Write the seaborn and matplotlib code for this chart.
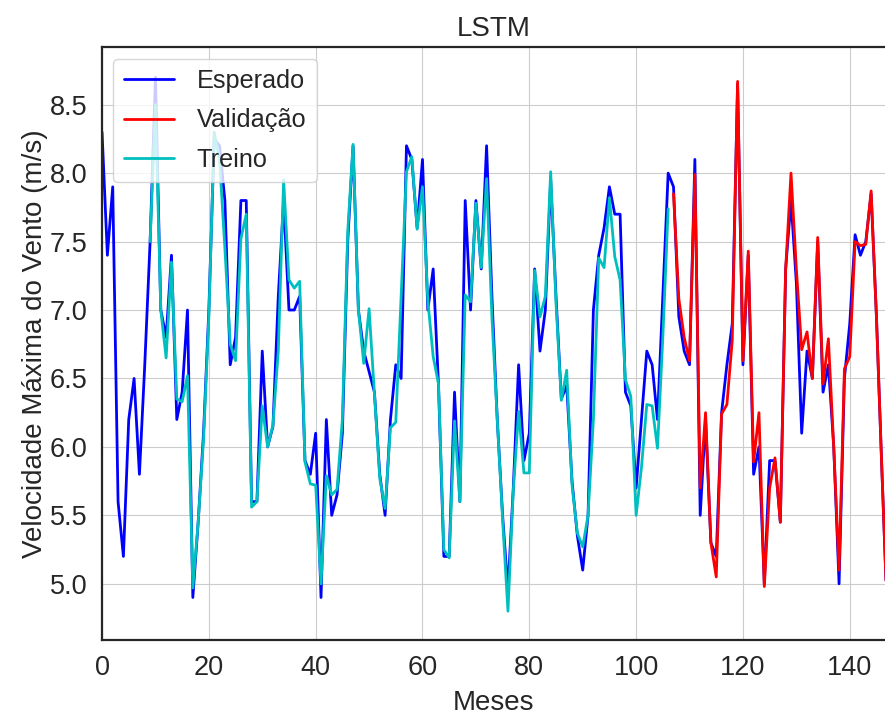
import numpy as np
import pandas as pd
import seaborn as sns
import matplotlib
matplotlib.use('Agg')
import matplotlib.pyplot as plt

# Monthly maximum wind speed (m/s)
esperado = [8.3, 7.4, 7.9, 5.6, 5.2, 6.2, 6.5, 5.8, 6.6, 7.5,
            8.7, 7.0, 6.8, 7.4, 6.2, 6.4, 7.0, 4.9, 5.45, 6.1,
            7.0, 8.25, 8.2, 7.8, 6.6, 6.8, 7.8, 7.8, 5.6, 5.6,
            6.7, 6.0, 6.15, 7.1, 7.8, 7.0, 7.0, 7.1, 5.9, 5.8,
            6.1, 4.9, 6.2, 5.5, 5.65, 6.1, 7.5, 8.2, 7.0, 6.7,
            6.55, 6.4, 5.8, 5.5, 6.2, 6.6, 6.5, 8.2, 8.1, 7.6,
            8.1, 7.0, 7.3, 6.45, 5.2, 5.2, 6.4, 5.6, 7.8, 7.0,
            7.8, 7.3, 8.2, 7.1, 6.2, 5.5, 4.95, 5.7, 6.6, 5.9,
            6.1, 7.3, 6.7, 7.0, 7.95, 7.1, 6.35, 6.45, 5.75, 5.35,
            5.1, 5.5, 7.0, 7.4, 7.6, 7.9, 7.7, 7.7, 6.4, 6.3,
            5.7, 6.2, 6.7, 6.6, 6.2, 7.1, 8.0, 7.9, 6.95, 6.7,
            6.6, 8.1, 5.5, 6.2, 5.3, 5.2, 6.25, 6.6, 6.9, 8.65,
            6.6, 7.4, 5.8, 6.0, 5.0, 5.9, 5.9, 5.45, 7.3, 7.8,
            7.2, 6.1, 6.7, 6.5, 7.5, 6.4, 6.6, 6.0, 5.0, 6.5,
            6.9, 7.55, 7.4, 7.5, 7.85, 6.95, 5.85, 4.8]

treino_inicio = 9
treino = [7.5, 8.5, 7.0, 6.65, 7.35, 6.35, 6.33, 6.52, 4.97, 5.45,
          6.05, 6.95, 8.3, 8.1, 7.45, 6.75, 6.63, 7.52, 7.7, 5.56,
          5.6, 6.3, 6.0, 6.16, 6.7, 7.95, 7.22, 7.16, 7.21, 5.89,
          5.73, 5.72, 5.0, 5.79, 5.65, 5.69, 6.2, 7.57, 8.21, 7.0,
          6.61, 7.01, 6.39, 5.77, 5.55, 6.14, 6.18, 7.1, 8.01, 8.12,
          7.59, 7.9, 7.07, 6.66, 6.46, 5.25, 5.19, 6.19, 5.6, 7.11,
          7.06, 7.78, 7.31, 7.96, 6.95, 6.2, 5.47, 4.8, 5.68, 6.26,
          5.81, 5.81, 7.29, 6.95, 7.1, 8.01, 7.05, 6.34, 6.56, 5.72,
          5.37, 5.27, 5.5, 6.2, 7.38, 7.31, 7.82, 7.39, 7.22, 6.49,
          6.37, 5.5, 5.85, 6.31, 6.3, 5.99, 6.8, 7.74]

validacao_inicio = 107
validacao = [7.85, 7.08, 6.8, 6.63, 7.99, 5.7, 6.25, 5.3, 5.05, 6.24,
             6.31, 6.78, 8.67, 6.63, 7.43, 5.89, 6.25, 4.98, 5.7, 5.92,
             5.45, 7.3, 8.0, 7.3, 6.71, 6.84, 6.5, 7.53, 6.46, 6.79,
             6.0, 5.1, 6.57, 6.66, 7.5, 7.47, 7.48, 7.87, 6.95, 5.85,
             4.8]

df_esp = pd.DataFrame({'mes': np.arange(len(esperado)), 'v': esperado})
df_tre = pd.DataFrame({'mes': np.arange(len(treino)) + treino_inicio, 'v': treino})
df_val = pd.DataFrame({'mes': np.arange(len(validacao)) + validacao_inicio, 'v': validacao})

sns.set_style('whitegrid', {'axes.edgecolor': '0.15'})
plt.rcParams['font.family'] = ['Liberation Sans', 'DejaVu Sans']

fig = plt.figure(figsize=(8.85, 7.15), dpi=100)
ax = fig.add_axes([0.1153, 0.105, 0.8847, 0.829])

sns.lineplot(data=df_esp, x='mes', y='v', color='b', linewidth=2, label='Esperado', ax=ax)
sns.lineplot(data=df_val, x='mes', y='v', color='r', linewidth=2, label='Validação', ax=ax)
sns.lineplot(data=df_tre, x='mes', y='v', color='c', linewidth=2, label='Treino', ax=ax)

ax.set_xlim(0, 146.6)
ax.set_ylim(4.59, 8.92)
ax.set_xticks(range(0, 141, 20))
ax.set_yticks(np.arange(5.0, 8.51, 0.5))
ax.yaxis.set_major_formatter(matplotlib.ticker.FormatStrFormatter('%.1f'))
ax.tick_params(labelsize=19.5, pad=7)
ax.set_xlabel('Meses', fontsize=20, labelpad=7)
ax.set_ylabel('Velocidade Máxima do Vento (m/s)', fontsize=20, labelpad=1)
ax.set_title('LSTM', fontsize=20, pad=8)
for s in ['left', 'top', 'bottom']:
    ax.spines[s].set_linewidth(1.6)
ax.spines['right'].set_visible(False)
ax.legend(loc='upper left', fontsize=18.2, labelspacing=0.62,
          handletextpad=0.9, borderaxespad=0.45)

plt.savefig('out.png', dpi=100)
